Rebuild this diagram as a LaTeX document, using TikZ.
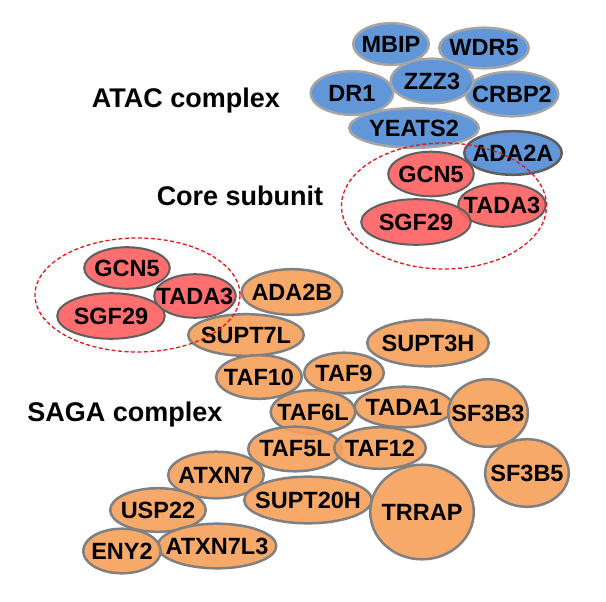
\documentclass[tikz,border=0pt]{standalone}
\usepackage{fontspec}
\setmainfont{Liberation Sans}
\usetikzlibrary{shapes.geometric}
\definecolor{blueF}{RGB}{80,139,213}
\definecolor{blueB}{RGB}{165,165,165}
\definecolor{redF}{RGB}{255,96,96}
\definecolor{redB}{RGB}{95,95,95}
\definecolor{orF}{RGB}{247,160,90}
\definecolor{orB}{RGB}{128,128,128}
\definecolor{dashR}{RGB}{235,20,20}
\begin{document}
\begin{tikzpicture}[x=1pt,y=-1pt,
  prot/.style={ellipse, inner sep=0pt, outer sep=0pt, fill opacity=0.9, draw opacity=1},
  sz/.style 2 args={minimum width={#1pt-2.4pt}, minimum height={#2pt-2.4pt}},
  bl/.style={prot, fill=blueF, draw=blueB, line width=2.5pt},
  rd/.style={prot, fill=redF, draw=redB, line width=2pt},
  og/.style={prot, fill=orF, draw=orB, line width=2.5pt},
  txt/.style={inner sep=0pt, font=\fontsize{23.5}{23.5}\selectfont\bfseries},
  lab/.style={anchor=base, inner sep=0pt, font=\fontsize{27}{27}\selectfont\bfseries},
  grp/.style={ellipse, draw=dashR, line width=1.3pt, dash pattern=on 4pt off 2.5pt, inner sep=0pt}
]
\useasboundingbox (0,0) rectangle (606,602);
\fill[white] (0,0) rectangle (606,602);

% ATAC complex shapes
\node[bl, sz={78}{44}] (mbip) at (391,44) {};
\node[bl, sz={92}{43}] (wdr5) at (484,48) {};
\node[bl, sz={85}{46}] (dr1) at (352,93) {};
\node[bl, sz={95}{47}] (crbp2) at (512,94) {};
\node[bl, sz={85}{47}] (zzz3) at (432,81) {};
\node[bl, sz={132}{42}] (yeats2) at (414,128) {};
\node[bl, draw=redB, sz={100}{46}] (ada2a) at (513,153) {};
\node[rd, sz={88}{47}] (gcn5a) at (431,174) {};
\node[rd, sz={90}{46}] (tada3a) at (502,205) {};
\node[rd, sz={112}{48}] (sgf29a) at (416,222) {};

% SAGA complex shapes
\node[rd, sz={88}{44}] (gcn5b) at (127,268) {};
\node[rd, sz={110}{48}] (sgf29b) at (111,316) {};
\node[rd, sz={84}{46}] (tada3b) at (195,296) {};
\node[og, sz={103}{48}] (ada2b) at (292,292) {};
\node[og, sz={118}{44}] (supt7l) at (246,335) {};
\node[og, sz={88}{46}] (taf10) at (259,377) {};
\node[og, sz={82}{43}] (taf9) at (344,373) {};
\node[og, sz={124}{49}] (supt3h) at (428,343) {};
\node[og, sz={87}{46}] (taf6l) at (313,412) {};
\node[og, sz={101}{43}] (tada1) at (404,407) {};
\node[og, sz={82}{70}] (sf3b3) at (488,413) {};
\node[og, sz={96}{47}] (taf5l) at (295,449) {};
\node[og, sz={94}{44}] (taf12) at (380,448) {};
\node[og, sz={86}{70}] (sf3b5) at (527,473) {};
\node[og, sz={98}{49}] (atxn7) at (216,475) {};
\node[og, sz={130}{49}] (supt20h) at (308,500) {};
\node[og, sz={106}{97}] (trrap) at (422,512) {};
\node[og, sz={98}{46}] (usp22) at (158,510) {};
\node[og, sz={121}{47}] (atxn7l3) at (217,546) {};
\node[og, sz={80}{47}] (eny2) at (122,551) {};

% texts on top of the shapes
\node[txt] (mbipT) at (mbip) {MBIP};
\node[txt] (wdr5T) at (wdr5) {WDR5};
\node[txt] (dr1T) at (dr1) {DR1};
\node[txt] (crbp2T) at (crbp2) {CRBP2};
\node[txt] (zzz3T) at (zzz3) {ZZZ3};
\node[txt] (yeats2T) at (yeats2) {YEATS2};
\node[txt] (ada2aT) at (ada2a) {ADA2A};
\node[txt] (gcn5aT) at (gcn5a) {GCN5};
\node[txt] (tada3aT) at (tada3a) {TADA3};
\node[txt] (sgf29aT) at (sgf29a) {SGF29};
\node[txt] (gcn5bT) at (gcn5b) {GCN5};
\node[txt] (sgf29bT) at (sgf29b) {SGF29};
\node[txt] (tada3bT) at (tada3b) {TADA3};
\node[txt] (ada2bT) at (ada2b) {ADA2B};
\node[txt] (supt7lT) at (supt7l) {SUPT7L};
\node[txt] (taf10T) at (taf10) {TAF10};
\node[txt] (taf9T) at (taf9) {TAF9};
\node[txt] (supt3hT) at (supt3h) {SUPT3H};
\node[txt] (taf6lT) at (taf6l) {TAF6L};
\node[txt] (tada1T) at (tada1) {TADA1};
\node[txt] (sf3b3T) at (sf3b3) {SF3B3};
\node[txt] (taf5lT) at (taf5l) {TAF5L};
\node[txt] (taf12T) at (taf12) {TAF12};
\node[txt] (sf3b5T) at (sf3b5) {SF3B5};
\node[txt] (atxn7T) at (atxn7) {ATXN7};
\node[txt] (supt20hT) at (supt20h) {SUPT20H};
\node[txt] (trrapT) at (trrap) {TRRAP};
\node[txt] (usp22T) at (usp22) {USP22};
\node[txt] (atxn7l3T) at (atxn7l3) {ATXN7L3};
\node[txt] (eny2T) at (eny2) {ENY2};

% core subunit outlines
\node[grp, minimum width=205pt, minimum height=126pt] (corea) at (444,206) {};
\node[grp, minimum width=205pt, minimum height=114pt] (coreb) at (137.5,295) {};

% labels
\node[lab] (atac) at (186,107) {ATAC complex};
\node[lab] (core) at (240,205) {Core subunit};
\node[lab] (saga) at (125,421) {SAGA complex};
\end{tikzpicture}
\end{document}
